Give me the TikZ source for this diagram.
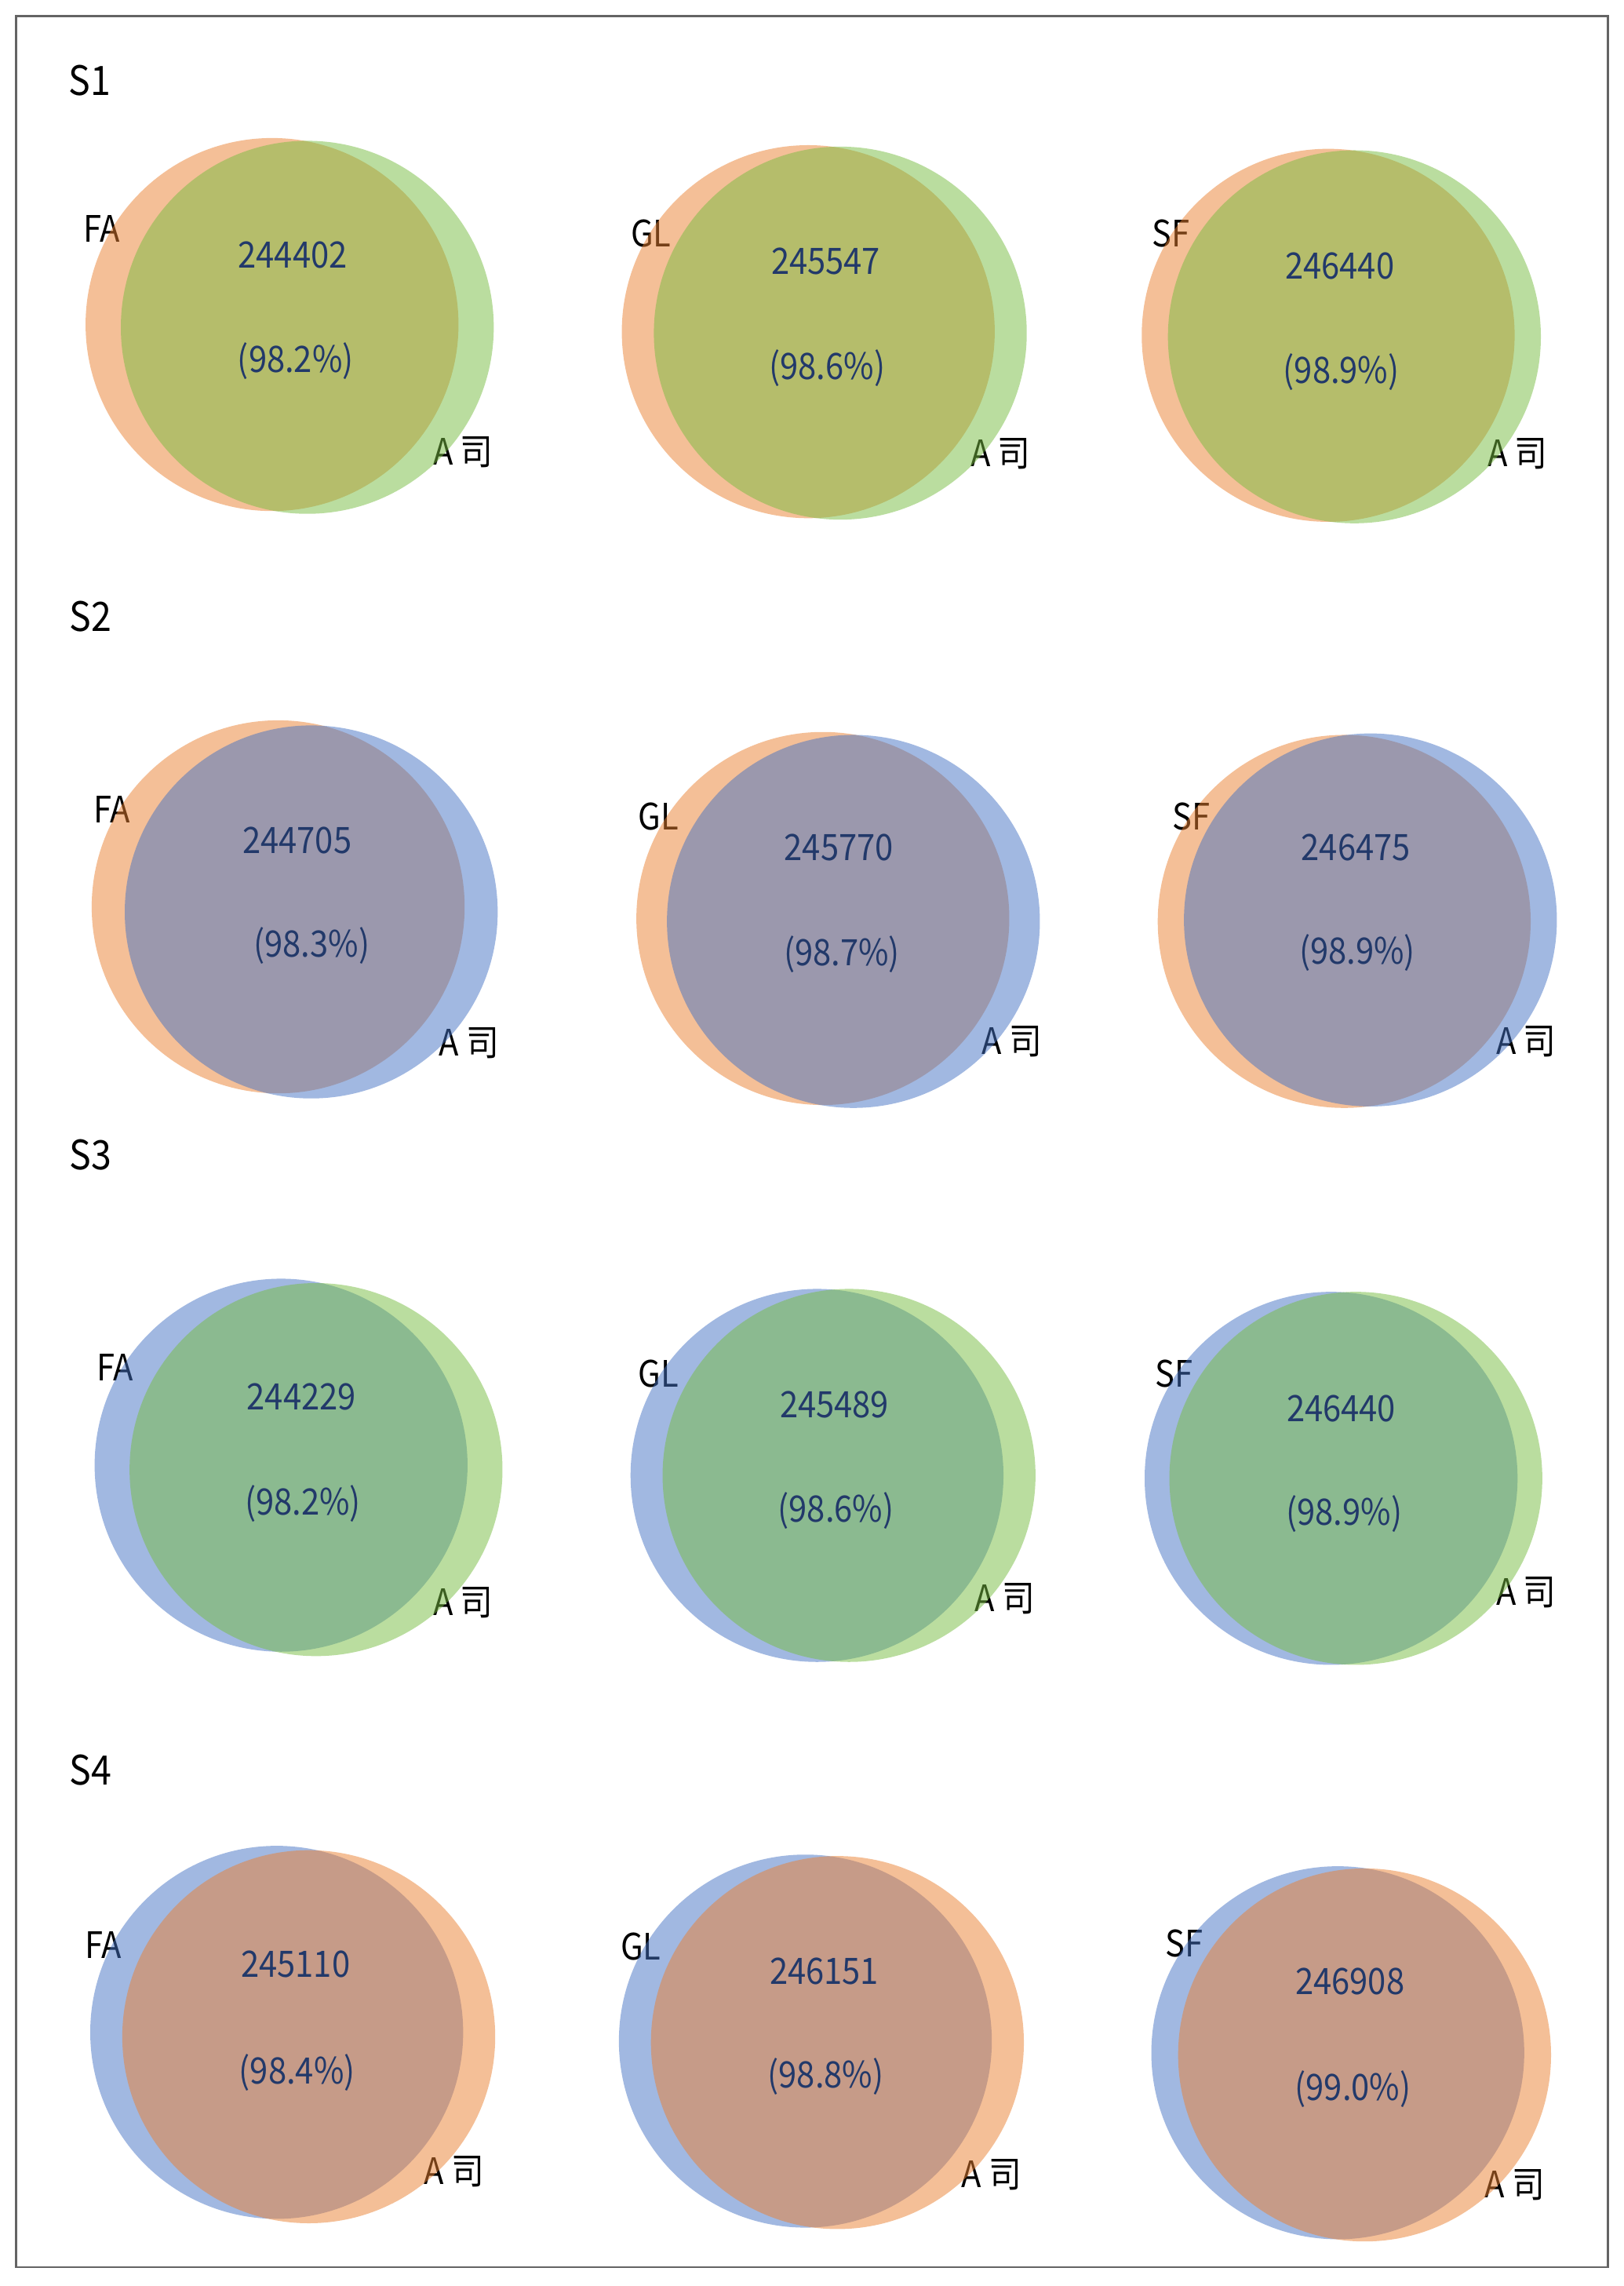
\documentclass[tikz,border=0pt]{standalone}
\usepackage{fontspec}
\newfontfamily\cjk[FakeStretch=0.9]{Noto Sans CJK SC}
\definecolor{vorange}{HTML}{EB8030}
\definecolor{vgreen}{HTML}{77BD41}
\definecolor{vblue}{HTML}{4472C4}
\definecolor{numblue}{HTML}{22396A}
\definecolor{frame}{HTML}{646464}
\tikzset{
  vcirc/.style={circle, inner sep=0pt, minimum size=4.755cm, fill opacity=0.5, draw=none},
  setlbl/.style={inner sep=0pt, font=\cjk\fontsize{13.2}{15}\selectfont, text height=9.7pt, text depth=0pt, text=black},
  numlbl/.style={inner sep=0pt, font=\cjk\fontsize{13.2}{15}\selectfont, text height=9.7pt, text depth=0pt, text=numblue},
  headlbl/.style={inner sep=0pt, font=\cjk\fontsize{14.7}{17}\selectfont, text height=10.8pt, text depth=0pt, text=black},
  framebox/.style={draw=frame, line width=0.65pt}
}
\begin{document}
\begin{tikzpicture}[x=0.018574cm, y=-0.018578cm]
\useasboundingbox (0,0) rectangle (1115,1568);
\fill[white] (0,0) rectangle (1115,1568);
\coordinate (tl) at (11,11);
\coordinate (br) at (1104,1555);
\draw[framebox] (tl) rectangle (br);

% headings
\node[headlbl] (h1) at (61.5,55) {S1};
\node[headlbl] (h2) at (62,423) {S2};
\node[headlbl] (h3) at (62,792) {S3};
\node[headlbl] (h4) at (62,1214) {S4};

% ---------- Row 1 ----------
\node[setlbl] (l11) at (70,157) {FA};
\node[setlbl] (r11) at (318,310) {A 司};
\node[vcirc, fill=vorange] (a11) at (186.8,222.6) {};
\node[vcirc, fill=vgreen] (b11) at (211,224.5) {};
\node[numlbl] (n11) at (201,174.5) {244402};
\node[numlbl] (p11) at (203,246.3) {(98.2\%)};

\node[setlbl] (l12) at (447,160) {GL};
\node[setlbl] (r12) at (687,311) {A 司};
\node[vcirc, fill=vorange] (a12) at (555,227.5) {};
\node[vcirc, fill=vgreen] (b12) at (577,228.5) {};
\node[numlbl] (n12) at (567,179) {245547};
\node[numlbl] (p12) at (568,251) {(98.6\%)};

\node[setlbl] (l13) at (804,160) {SF};
\node[setlbl] (r13) at (1042,311) {A 司};
\node[vcirc, fill=vorange] (a13) at (912,230) {};
\node[vcirc, fill=vgreen] (b13) at (930,231) {};
\node[numlbl] (n13) at (920,182) {246440};
\node[numlbl] (p13) at (921,254) {(98.9\%)};

% ---------- Row 2 ----------
\node[setlbl] (l21) at (77,555) {FA};
\node[setlbl] (r21) at (322,715) {A 司};
\node[vcirc, fill=vorange] (a21) at (191,622) {};
\node[vcirc, fill=vblue] (b21) at (213.7,625.5) {};
\node[numlbl] (n21) at (204,576) {244705};
\node[numlbl] (p21) at (214,647.5) {(98.3\%)};

\node[setlbl] (l22) at (452,560) {GL};
\node[setlbl] (r22) at (695,714) {A 司};
\node[vcirc, fill=vorange] (a22) at (565,630) {};
\node[vcirc, fill=vblue] (b22) at (586,632) {};
\node[numlbl] (n22) at (576,581) {245770};
\node[numlbl] (p22) at (578,653) {(98.7\%)};

\node[setlbl] (l23) at (818,560) {SF};
\node[setlbl] (r23) at (1048,714) {A 司};
\node[vcirc, fill=vorange] (a23) at (923,632) {};
\node[vcirc, fill=vblue] (b23) at (941,631) {};
\node[numlbl] (n23) at (931,581) {246475};
\node[numlbl] (p23) at (932,652) {(98.9\%)};

% ---------- Row 3 ----------
\node[setlbl] (l31) at (79,938) {FA};
\node[setlbl] (r31) at (318,1099) {A 司};
\node[vcirc, fill=vblue] (a31) at (193,1005) {};
\node[vcirc, fill=vgreen] (b31) at (217,1008) {};
\node[numlbl] (n31) at (207,958) {244229};
\node[numlbl] (p31) at (208,1030) {(98.2\%)};

\node[setlbl] (l32) at (452,942) {GL};
\node[setlbl] (r32) at (690,1096) {A 司};
\node[vcirc, fill=vblue] (a32) at (561,1012) {};
\node[vcirc, fill=vgreen] (b32) at (583,1012) {};
\node[numlbl] (n32) at (573,963) {245489};
\node[numlbl] (p32) at (574,1035) {(98.6\%)};

\node[setlbl] (l33) at (806,942) {SF};
\node[setlbl] (r33) at (1048,1092) {A 司};
\node[vcirc, fill=vblue] (a33) at (914,1014) {};
\node[vcirc, fill=vgreen] (b33) at (931,1014) {};
\node[numlbl] (n33) at (921,966) {246440};
\node[numlbl] (p33) at (923,1037) {(98.9\%)};

% ---------- Row 4 ----------
\node[setlbl] (l41) at (71,1334) {FA};
\node[setlbl] (r41) at (312,1489) {A 司};
\node[vcirc, fill=vblue] (a41) at (190,1394) {};
\node[vcirc, fill=vorange] (b41) at (212,1397) {};
\node[numlbl] (n41) at (203,1347) {245110};
\node[numlbl] (p41) at (204,1420) {(98.4\%)};

\node[setlbl] (l42) at (440,1335) {GL};
\node[setlbl] (r42) at (681,1491) {A 司};
\node[vcirc, fill=vblue] (a42) at (553,1400) {};
\node[vcirc, fill=vorange] (b42) at (575,1401) {};
\node[numlbl] (n42) at (566,1352) {246151};
\node[numlbl] (p42) at (567,1423) {(98.8\%)};

\node[setlbl] (l43) at (813,1333) {SF};
\node[setlbl] (r43) at (1040,1498) {A 司};
\node[vcirc, fill=vblue] (a43) at (918.6,1408) {};
\node[vcirc, fill=vorange] (b43) at (937,1409.5) {};
\node[numlbl] (n43) at (927,1359) {246908};
\node[numlbl] (p43) at (929,1431.6) {(99.0\%)};
\end{tikzpicture}
\end{document}
